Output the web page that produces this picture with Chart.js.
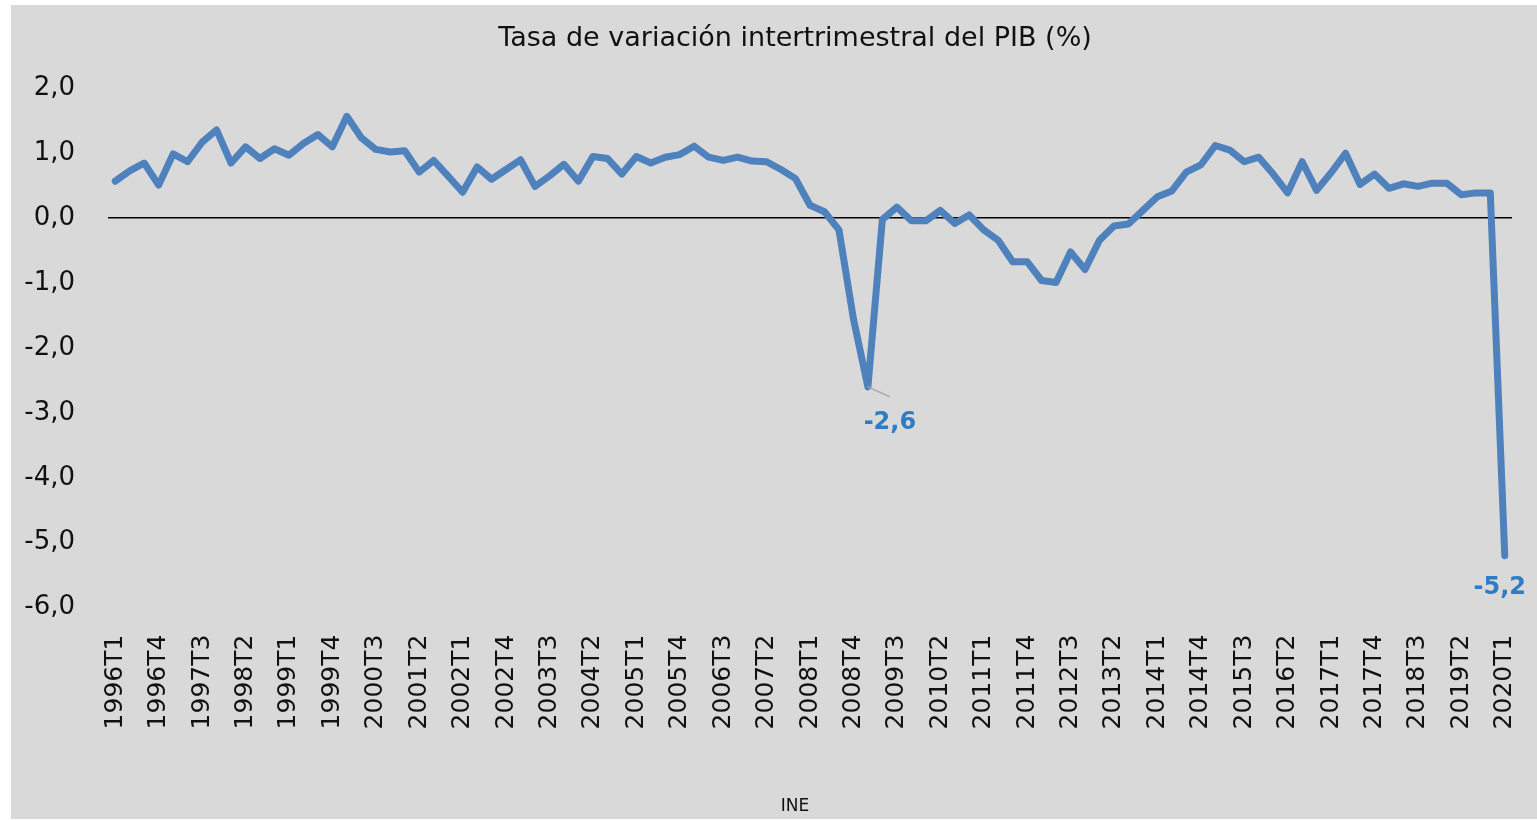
<!DOCTYPE html>
<html>
<head>
<meta charset="utf-8">
<script src="https://cdn.jsdelivr.net/npm/chart.js@4"></script>
<style>
  body { margin: 0; background: #fff; }
  #wrap { position: absolute; left: 11px; top: 5px; width: 1526px; height: 814px; background: #d9d9d9; }
</style>
</head>
<body>
<div id="wrap"><canvas id="pib"></canvas></div>
<script>
// Trimestres 1996T1 .. 2020T1
const quarters = [
  '1996T1','1996T2','1996T3','1996T4',
  '1997T1','1997T2','1997T3','1997T4',
  '1998T1','1998T2','1998T3','1998T4',
  '1999T1','1999T2','1999T3','1999T4',
  '2000T1','2000T2','2000T3','2000T4',
  '2001T1','2001T2','2001T3','2001T4',
  '2002T1','2002T2','2002T3','2002T4',
  '2003T1','2003T2','2003T3','2003T4',
  '2004T1','2004T2','2004T3','2004T4',
  '2005T1','2005T2','2005T3','2005T4',
  '2006T1','2006T2','2006T3','2006T4',
  '2007T1','2007T2','2007T3','2007T4',
  '2008T1','2008T2','2008T3','2008T4',
  '2009T1','2009T2','2009T3','2009T4',
  '2010T1','2010T2','2010T3','2010T4',
  '2011T1','2011T2','2011T3','2011T4',
  '2012T1','2012T2','2012T3','2012T4',
  '2013T1','2013T2','2013T3','2013T4',
  '2014T1','2014T2','2014T3','2014T4',
  '2015T1','2015T2','2015T3','2015T4',
  '2016T1','2016T2','2016T3','2016T4',
  '2017T1','2017T2','2017T3','2017T4',
  '2018T1','2018T2','2018T3','2018T4',
  '2019T1','2019T2','2019T3','2019T4',
  '2020T1'
];

// Tasa de variación intertrimestral (%)
const pib = [
  0.57, 0.73, 0.85, 0.51,
  0.99, 0.87, 1.17, 1.36,
  0.85, 1.10, 0.92, 1.07,
  0.97, 1.15, 1.29, 1.10,
  1.57, 1.24, 1.06, 1.02,
  1.04, 0.71, 0.89, 0.65,
  0.40, 0.79, 0.60, 0.75,
  0.90, 0.49, 0.65, 0.83,
  0.57, 0.95, 0.92, 0.68,
  0.95, 0.85, 0.94, 0.98,
  1.11, 0.94, 0.89, 0.94,
  0.88, 0.87, 0.75, 0.61,
  0.20, 0.10, -0.18, -1.55,
  -2.60, -0.02, 0.17, -0.04,
  -0.04, 0.12, -0.08, 0.05,
  -0.18, -0.34, -0.67, -0.67,
  -0.96, -0.99, -0.52, -0.79,
  -0.34, -0.12, -0.09, 0.12,
  0.33, 0.42, 0.71, 0.82,
  1.12, 1.05, 0.87, 0.94,
  0.68, 0.39, 0.87, 0.43,
  0.70, 1.00, 0.52, 0.68,
  0.46, 0.53, 0.49, 0.54,
  0.54, 0.36, 0.39, 0.39,
  -5.20
];

// puntos con etiqueta de dato
const labelled = ['2009T1', '2020T1'];

const fmt = v => v.toFixed(1).replace('.', ',');

const pointLabels = {
  id: 'pointLabels',
  afterDatasetsDraw(chart) {
    const ctx = chart.ctx;
    const pts = chart.getDatasetMeta(0).data;
    ctx.save();
    ctx.font = 'bold 24px "DejaVu Sans"';
    ctx.fillStyle = '#2f7bc4';
    ctx.textAlign = 'center';
    ctx.textBaseline = 'middle';
    labelled.forEach(q => {
      const i = quarters.indexOf(q);
      const p = pts[i];
      if (q === '2009T1') {
        // linea guia gris
        ctx.strokeStyle = '#a6a6a6';
        ctx.lineWidth = 1.5;
        ctx.beginPath();
        ctx.moveTo(p.x, p.y);
        ctx.lineTo(p.x + 22, p.y + 10);
        ctx.stroke();
        ctx.fillText(fmt(pib[i]), p.x + 22, p.y + 36);
      } else {
        ctx.fillText(fmt(pib[i]), p.x - 5, p.y + 32);
      }
    });
    ctx.restore();
  }
};

new Chart(document.getElementById('pib'), {
  type: 'line',
  data: {
    labels: quarters,
    datasets: [{
      label: 'PIB',
      data: pib,
      borderColor: '#4f81bd',
      borderWidth: 7,
      borderJoinStyle: 'round',
      borderCapStyle: 'round',
      pointRadius: 0,
      tension: 0,
      fill: false
    }]
  },
  options: {
    animation: false,
    responsive: true,
    maintainAspectRatio: false,
    // padding derecho negativo: desplaza el centro del titulo y de "INE" como en el original
    layout: { padding: { left: 12, right: -30, top: 0, bottom: 0 } },
    plugins: {
      legend: { display: false },
      tooltip: { enabled: false },
      title: {
        display: true,
        text: 'Tasa de variación intertrimestral del PIB (%)',
        color: '#111',
        font: { family: 'DejaVu Sans', size: 27, weight: 'normal' },
        padding: { top: 18, bottom: 33 }
      },
      subtitle: {
        display: true,
        position: 'bottom',
        text: 'INE',
        color: '#111',
        font: { family: 'DejaVu Sans', size: 17 },
        padding: { top: 0, bottom: 2 }
      }
    },
    scales: {
      x: {
        offset: true,
        grid: { display: false },
        border: { display: false },
        ticks: {
          autoSkip: false,
          minRotation: 90,
          maxRotation: 90,
          padding: 19,
          color: '#111',
          font: { family: 'DejaVu Sans', size: 25 },
          callback: (v, i) => (i % 3 === 0 ? quarters[i] : '')
        },
        afterFit: s => {
          s.height = 189;
          s.paddingLeft = 0;
          s.paddingRight = 25;
        }
      },
      y: {
        min: -6,
        max: 2,
        ticks: {
          stepSize: 1,
          padding: 33,
          color: '#111',
          font: { family: 'DejaVu Sans', size: 26 },
          callback: v => fmt(v)
        },
        grid: {
          drawTicks: false,
          lineWidth: 1.5,
          color: c => (c.tick && c.tick.value === 0 ? '#000' : 'rgba(0,0,0,0)')
        },
        border: { display: false },
        afterFit: s => { s.width = 85; }
      }
    }
  },
  plugins: [pointLabels]
});
</script>
</body>
</html>
